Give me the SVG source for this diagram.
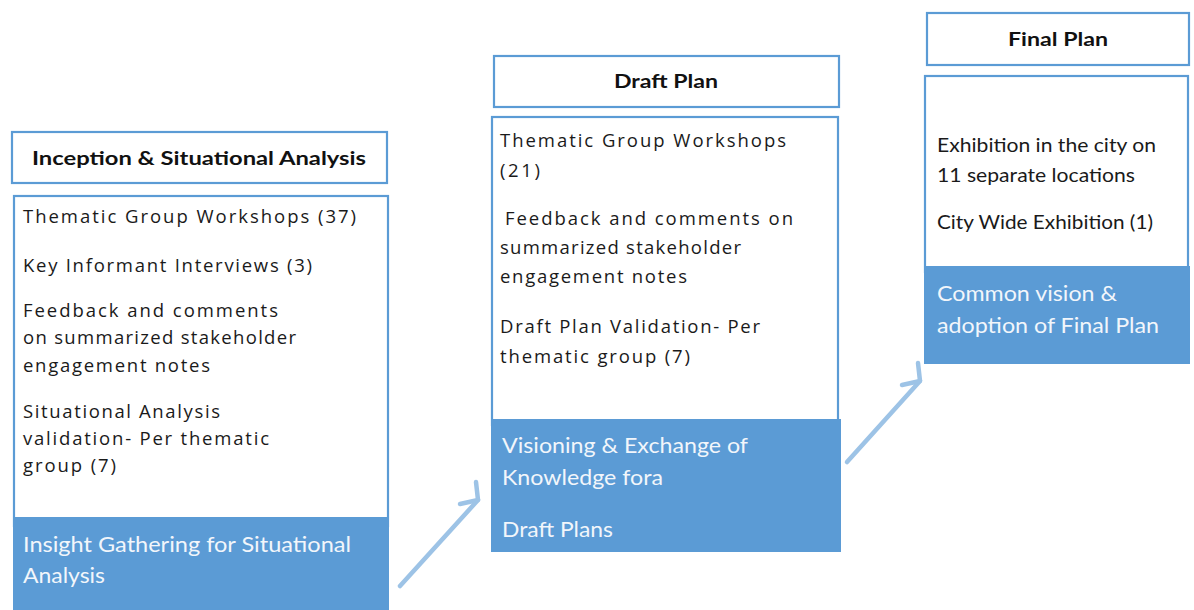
<svg xmlns="http://www.w3.org/2000/svg" width="1194" height="610" viewBox="0 0 1194 610">
<defs>
<style>
.box{fill:#fff;stroke:#5B9BD5;stroke-width:2.2}
.band{fill:#5B9BD5;stroke:#5B9BD5;stroke-width:2}
.h{font-family:Lato,"Liberation Sans",sans-serif;font-weight:bold;font-size:19px;fill:#111}
.t{font-family:"Open Sans","Liberation Sans",sans-serif;font-size:18.5px;fill:#1a1a1a}
.c{font-family:Lato,"Liberation Sans",sans-serif;font-size:20px;fill:#1a1a1a}
.w{font-family:Lato,"Liberation Sans",sans-serif;font-size:21px;fill:#f2f6fb}
.conn{stroke:#9DC3E6;stroke-width:4.5;fill:none;stroke-linecap:round;stroke-linejoin:round}
</style>
</defs>
<rect width="1194" height="610" fill="#fff"/>

<g id="stage1">
<rect class="box" x="12" y="132" width="375" height="51"/>
<text class="h" x="199" y="165" text-anchor="middle" textLength="334" lengthAdjust="spacingAndGlyphs">Inception &amp; Situational Analysis</text>
<rect class="box" x="14" y="196" width="374" height="330"/>
<rect class="band" x="14" y="518" width="374" height="94"/>
<text class="t" x="23" y="223" textLength="333" lengthAdjust="spacing">Thematic Group Workshops (37)</text>
<text class="t" x="23" y="272" textLength="289" lengthAdjust="spacing">Key Informant Interviews (3)</text>
<text class="t" x="23" y="317" textLength="255" lengthAdjust="spacing">Feedback and comments</text>
<text class="t" x="23" y="344" textLength="273" lengthAdjust="spacing">on summarized stakeholder</text>
<text class="t" x="23" y="372" textLength="187" lengthAdjust="spacing">engagement notes</text>
<text class="t" x="23" y="418" textLength="197" lengthAdjust="spacing">Situational Analysis</text>
<text class="t" x="23" y="445" textLength="246" lengthAdjust="spacing">validation- Per thematic</text>
<text class="t" x="23" y="472" textLength="93" lengthAdjust="spacing">group (7)</text>
<text class="w" x="23" y="552" textLength="328" lengthAdjust="spacingAndGlyphs">Insight Gathering for Situational</text>
<text class="w" x="23" y="583" textLength="82" lengthAdjust="spacingAndGlyphs">Analysis</text>
</g>

<g id="stage2">
<rect class="box" x="494" y="56" width="345" height="51"/>
<text class="h" x="666" y="88" text-anchor="middle" textLength="104" lengthAdjust="spacingAndGlyphs">Draft Plan</text>
<rect class="box" x="492" y="117" width="346" height="308"/>
<rect class="band" x="492" y="420" width="348" height="131"/>
<text class="t" x="500" y="147" textLength="286" lengthAdjust="spacing">Thematic Group Workshops</text>
<text class="t" x="500" y="177" textLength="40" lengthAdjust="spacing">(21)</text>
<text class="t" x="505" y="225" textLength="288" lengthAdjust="spacing">Feedback and comments on</text>
<text class="t" x="500" y="254" textLength="241" lengthAdjust="spacing">summarized stakeholder</text>
<text class="t" x="500" y="283" textLength="187" lengthAdjust="spacing">engagement notes</text>
<text class="t" x="500" y="333" textLength="260" lengthAdjust="spacing">Draft Plan Validation- Per</text>
<text class="t" x="500" y="363" textLength="190" lengthAdjust="spacing">thematic group (7)</text>
<text class="w" x="502" y="453" textLength="246" lengthAdjust="spacingAndGlyphs">Visioning &amp; Exchange of</text>
<text class="w" x="502" y="485" textLength="161" lengthAdjust="spacingAndGlyphs">Knowledge fora</text>
<text class="w" x="502" y="537" textLength="111" lengthAdjust="spacingAndGlyphs">Draft Plans</text>
</g>

<g id="stage3">
<rect class="box" x="927" y="13" width="262" height="52"/>
<text class="h" x="1058" y="46" text-anchor="middle" textLength="100" lengthAdjust="spacingAndGlyphs">Final Plan</text>
<rect class="box" x="925" y="76" width="263" height="196"/>
<rect class="band" x="925" y="267" width="264" height="96"/>
<text class="c" x="937" y="152" textLength="219" lengthAdjust="spacingAndGlyphs">Exhibition in the city on</text>
<text class="c" x="937" y="182" textLength="198" lengthAdjust="spacingAndGlyphs">11 separate locations</text>
<text class="c" x="937" y="229" textLength="216" lengthAdjust="spacingAndGlyphs">City Wide Exhibition (1)</text>
<text class="w" x="937" y="301" textLength="180" lengthAdjust="spacingAndGlyphs">Common vision &amp;</text>
<text class="w" x="937" y="333" textLength="222" lengthAdjust="spacingAndGlyphs">adoption of Final Plan</text>
</g>

<g id="connectors">
<path class="conn" d="M400 586 L478 500"/>
<path class="conn" d="M460 504 L478 500 L476 482"/>
<path class="conn" d="M847 462 L920 381"/>
<path class="conn" d="M902 385 L920 381 L918 363"/>
</g>
</svg>
